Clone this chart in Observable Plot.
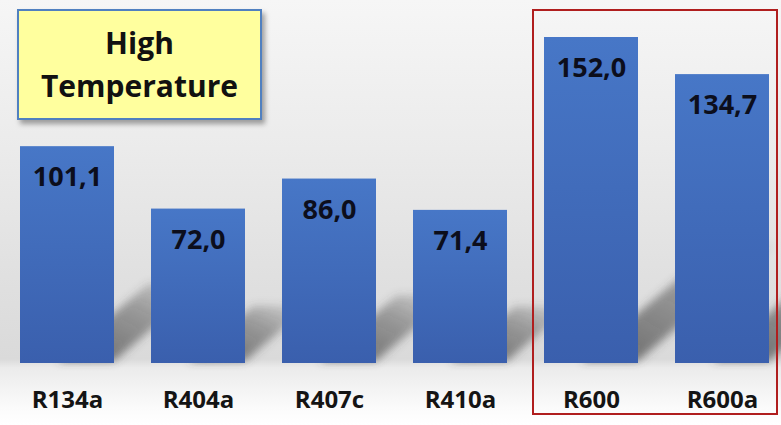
<!DOCTYPE html>
<html>
<head>
<meta charset="utf-8">
<script src="https://cdn.jsdelivr.net/npm/d3@7"></script>
<script src="https://cdn.jsdelivr.net/npm/@observablehq/plot@0.6"></script>
<style>
  html, body { margin: 0; padding: 0; background: #fff; }
  #wrap { position: relative; width: 781px; height: 425px; overflow: hidden; font-family: "Open Sans", sans-serif; }
  #title {
    position: absolute; left: 17px; top: 9px; width: 241px; height: 107px;
    background: #ffff9e; border: 2px solid #5080c0;
    box-shadow: 3px 4px 5px rgba(0,0,0,0.35);
  }
  #title div {
    position: absolute; left: 0; right: 0; top: 10px;
    text-align: center; font-weight: 700; font-size: 30px; line-height: 43px; color: #111;
  }
  svg [aria-label="x-axis tick label"] text { font-weight: 700; }
</style>
</head>
<body>
<div id="wrap"><div id="title"><div>High<br>Temperature</div></div></div>
<script>
// Refrigerants and their values (high temperature application)
const refrigerants = ["R134a", "R404a", "R407c", "R410a", "R600", "R600a"];
const values = [101.1, 72.0, 86.0, 71.4, 152.0, 134.7];
// Group outlined in red
const highlighted = ["R600", "R600a"];

const data = refrigerants.map((name, i) => ({name, value: values[i]}));
const fmt = v => v.toFixed(1).replace(".", ",");

const chart = Plot.plot({
  width: 781,
  height: 425,
  marginTop: 37,
  marginBottom: 62,
  marginLeft: 20,
  marginRight: 11,
  style: {
    fontFamily: "Open Sans, sans-serif",
    background: "linear-gradient(to bottom, #f6f6f6 0%, #ebebeb 35%, #e0e0e0 65%, #dadada 84.5%, #ebebeb 86.5%, #fbfbfb 96%, #ffffff 100%)",
    overflow: "visible"
  },
  x: {domain: refrigerants, paddingInner: 0.28, paddingOuter: 0, label: null},
  y: {domain: [0, d3.max(values)], axis: null},
  marks: [
    Plot.barY(data, {x: "name", y: "value", fill: "url(#barGrad)"}),
    Plot.text(data, {
      x: "name", y: "value", text: d => fmt(d.value),
      dy: 31, fontSize: 27, fontWeight: "bold", fill: "#0c0e1c"
    }),
    Plot.axisX({tickSize: 0, tickPadding: 27, fontSize: 24, fontWeight: "bold", fill: "#141414"})
  ]
});

document.getElementById("wrap").prepend(chart);

// Gradients, shadow filter, cast shadows and highlight frame, placed with the plot's scales
const svg = d3.select(chart);
const defs = svg.insert("defs", ":first-child");

const bg = defs.append("linearGradient").attr("id", "barGrad")
  .attr("x1", 0).attr("y1", 0).attr("x2", 0).attr("y2", 1);
bg.append("stop").attr("offset", "0%").attr("stop-color", "#4777c7");
bg.append("stop").attr("offset", "100%").attr("stop-color", "#3a5fad");

const sg = defs.append("linearGradient").attr("id", "shadowGrad")
  .attr("x1", 0).attr("y1", 1).attr("x2", 1).attr("y2", 0);
sg.append("stop").attr("offset", "0%").attr("stop-color", "#444").attr("stop-opacity", 0.75);
sg.append("stop").attr("offset", "60%").attr("stop-color", "#444").attr("stop-opacity", 0.45);
sg.append("stop").attr("offset", "100%").attr("stop-color", "#444").attr("stop-opacity", 0.05);

defs.append("filter").attr("id", "shadowBlur")
  .attr("x", "-30%").attr("y", "-30%").attr("width", "160%").attr("height", "160%")
  .append("feGaussianBlur").attr("stdDeviation", 4.5);

const xs = chart.scale("x");
const ys = chart.scale("y");
const bw = xs.bandwidth;
const base = ys.apply(0);

const barsGroup = chart.querySelector('g[aria-label="bar"]');
const shadows = svg.insert("g", () => barsGroup).attr("filter", "url(#shadowBlur)");
data.forEach(d => {
  const x0 = xs.apply(d.name) + bw * 0.4;
  const x1 = xs.apply(d.name) + bw;
  const L = 0.42 * (base - ys.apply(d.value));
  const pts = [[x0, base - 2], [x1, base - 2], [x1 + L, base - 2 - 0.85 * L], [x0 + L, base - 2 - 0.85 * L]];
  shadows.append("polygon").attr("points", pts.map(p => p.join(",")).join(" "))
    .attr("fill", "url(#shadowGrad)");
});

const left = xs.apply(highlighted[0]) - 11;
const right = xs.apply(highlighted[highlighted.length - 1]) + bw + 8;
svg.append("rect")
  .attr("x", left).attr("y", 10)
  .attr("width", right - left).attr("height", 404)
  .attr("fill", "none").attr("stroke", "#b01e1e").attr("stroke-width", 2);
</script>
</body>
</html>
